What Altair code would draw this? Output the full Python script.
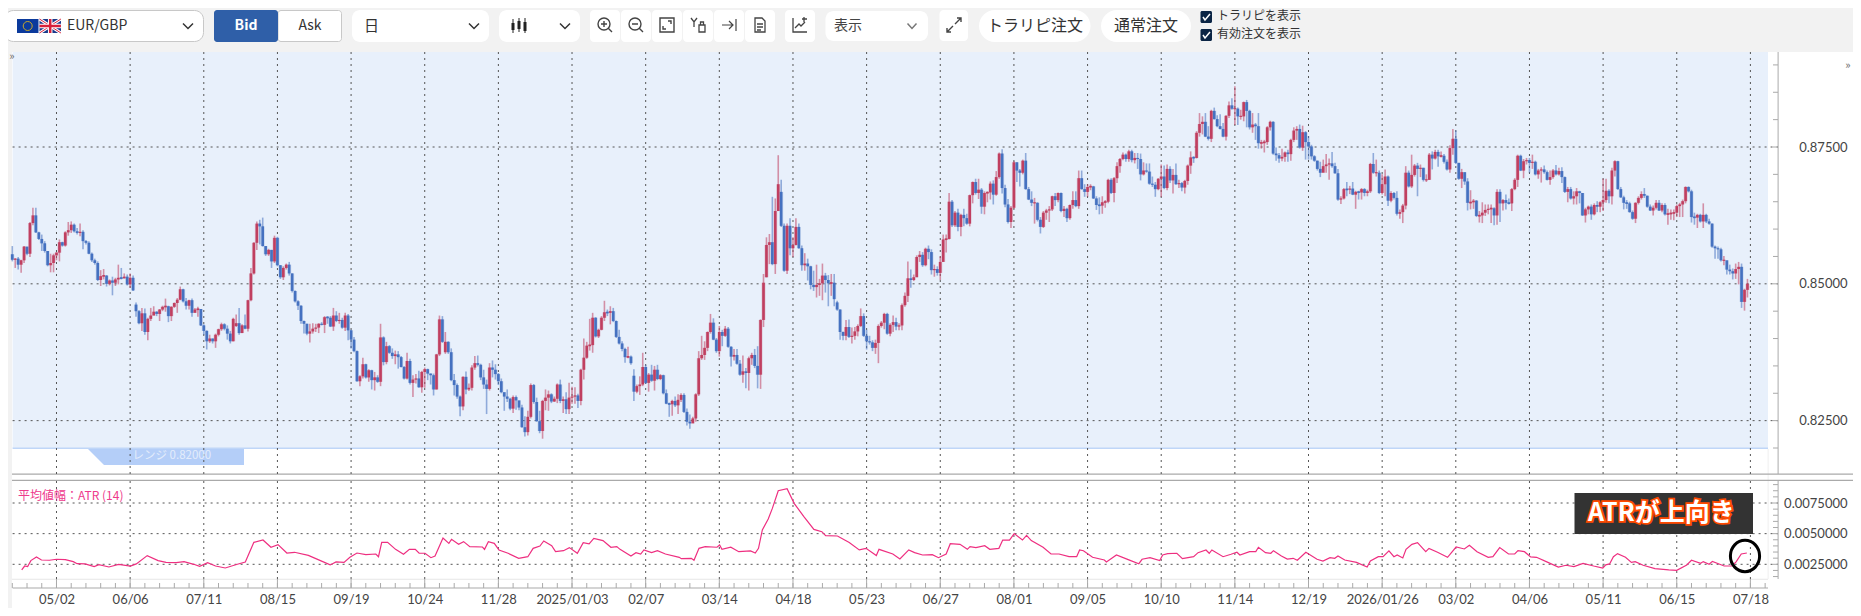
import altair as alt
import pandas as pd

# ---- candles, unit 0.0001 ----
close_a = [8544,8546,8535,8543,8568,8555,8611,8625,8594,8582,8574,8560,8534,8538,8552,8557,8576,8570,8594,8598,8608,8596,8593,8595,8578,8575,8555,8543,8538,8507,8514,8515,8500,8506,8502,8508,8511,8510,8513,8499,8511,8488,8450,8428,8446,8412,8436,8442,8449,8445,8453,8458,8459,8441,8458,8465,8471,8490,8468,8460,8470,8447,8453,8454,8424,8414,8395,8400,8395,8407,8417,8426,8418,8409,8395,8436,8428,8410,8424,8418,8470,8519,8575,8610,8605,8569,8554,8562,8541,8584,8534,8512,8529,8535,8519,8487,8468,8460]
high_a = [8569,8547,8549,8544,8569,8565,8613,8639,8639,8595,8590,8578,8560,8555,8555,8558,8581,8577,8596,8613,8614,8610,8602,8610,8598,8580,8578,8557,8546,8541,8525,8527,8516,8508,8513,8511,8535,8529,8519,8517,8519,8515,8466,8452,8456,8455,8438,8456,8459,8450,8454,8460,8473,8460,8459,8466,8474,8495,8491,8474,8471,8473,8456,8458,8454,8426,8415,8407,8400,8409,8418,8429,8428,8424,8414,8438,8444,8456,8426,8444,8471,8529,8576,8614,8617,8621,8569,8564,8562,8588,8586,8534,8532,8537,8540,8519,8488,8470]
low_a = [8541,8529,8526,8520,8538,8552,8549,8607,8593,8580,8560,8557,8532,8521,8521,8543,8541,8568,8568,8588,8593,8594,8590,8587,8563,8572,8554,8540,8535,8505,8496,8508,8495,8497,8479,8496,8499,8508,8510,8497,8493,8487,8440,8426,8414,8407,8397,8432,8444,8441,8432,8450,8449,8430,8432,8456,8447,8470,8466,8453,8453,8440,8448,8440,8423,8407,8380,8392,8391,8383,8404,8414,8415,8398,8391,8395,8421,8407,8412,8417,8413,8468,8517,8562,8572,8568,8551,8551,8529,8538,8532,8509,8507,8526,8515,8484,8466,8452]

close_b = [8432,8427,8409,8413,8418,8420,8427,8425,8439,8438,8422,8442,8432,8434,8420,8442,8415,8398,8377,8322,8331,8353,8329,8342,8324,8329,8321,8402,8357,8386,8374,8368,8371,8366,8348,8327,8359,8319,8325,8327,8311,8339,8344,8336,8333,8307,8371,8435,8394,8394,8375,8324,8315,8294,8276,8330,8307,8310,8347,8355,8352,8329,8316,8308,8347,8343,8335,8322,8302,8294,8290,8272,8293,8287,8274,8238,8229,8257,8315,8284,8249,8231,8286,8292,8298,8285,8290,8316,8286,8289,8271,8292,8294,8296,8286,8343,8365,8387,8388]
high_b = [8461,8433,8427,8427,8428,8427,8428,8430,8441,8441,8441,8456,8450,8447,8438,8447,8445,8416,8403,8378,8333,8365,8354,8344,8343,8339,8333,8427,8404,8394,8388,8382,8378,8377,8368,8350,8374,8363,8333,8335,8341,8341,8347,8345,8336,8336,8372,8442,8441,8412,8395,8382,8335,8318,8296,8331,8340,8318,8351,8368,8369,8354,8343,8325,8355,8360,8353,8337,8327,8300,8307,8292,8296,8296,8286,8279,8258,8268,8318,8317,8292,8268,8288,8307,8305,8300,8294,8318,8325,8294,8302,8319,8312,8311,8299,8345,8400,8394,8436]
low_b = [8427,8409,8406,8393,8409,8412,8410,8424,8410,8427,8421,8414,8430,8427,8418,8414,8397,8382,8375,8321,8313,8327,8327,8321,8307,8305,8319,8313,8351,8353,8372,8363,8353,8345,8347,8325,8325,8316,8293,8318,8310,8301,8310,8324,8316,8296,8307,8368,8392,8372,8372,8322,8296,8290,8258,8269,8298,8304,8305,8343,8349,8324,8308,8262,8305,8329,8325,8315,8300,8268,8284,8269,8264,8270,8269,8237,8221,8223,8254,8281,8248,8227,8217,8269,8268,8282,8284,8282,8282,8264,8262,8262,8281,8281,8273,8278,8325,8363,8378]

close_c = [8438,8404,8416,8438,8448,8447,8450,8432,8403,8391,8381,8366,8367,8355,8303,8313,8316,8348,8319,8334,8323,8343,8326,8333,8300,8281,8280,8286,8278,8288,8297,8266,8248,8245,8254,8298,8364,8370,8383,8412,8429,8398,8377,8412,8405,8418,8385,8367,8370,8354,8334,8340,8337,8364,8370,8350,8334,8434,8502,8571,8576,8536,8633,8682,8606,8524,8606,8565,8571,8604,8565,8534,8537,8532,8498,8494,8498,8501,8515,8507,8501,8502,8472,8453,8412,8405,8421,8403,8405,8413,8423,8441,8405,8395,8393,8383,8392,8423,8429]
high_c = [8447,8439,8418,8441,8469,8453,8459,8456,8433,8416,8395,8383,8385,8369,8344,8316,8331,8374,8352,8337,8352,8350,8352,8335,8334,8307,8283,8288,8294,8298,8300,8300,8272,8261,8257,8300,8377,8405,8395,8413,8445,8437,8401,8423,8416,8423,8421,8386,8381,8381,8361,8369,8346,8367,8374,8381,8386,8435,8518,8585,8591,8659,8656,8735,8690,8610,8610,8620,8585,8620,8610,8570,8556,8546,8533,8524,8535,8509,8537,8520,8516,8518,8518,8469,8453,8413,8434,8435,8420,8421,8426,8455,8446,8416,8405,8397,8398,8426,8432]
low_c = [8374,8402,8401,8415,8432,8441,8426,8430,8401,8389,8377,8356,8364,8352,8286,8300,8297,8313,8317,8303,8321,8305,8324,8324,8298,8280,8257,8259,8275,8262,8284,8264,8241,8235,8246,8248,8295,8361,8361,8377,8409,8397,8374,8367,8386,8403,8383,8349,8360,8352,8332,8319,8309,8305,8352,8346,8309,8308,8421,8512,8536,8534,8518,8633,8604,8522,8518,8552,8549,8570,8564,8524,8524,8506,8490,8487,8475,8478,8470,8484,8459,8478,8459,8451,8398,8397,8397,8401,8391,8398,8404,8421,8403,8380,8389,8377,8372,8355,8420]

close_d = [8445,8409,8425,8430,8422,8424,8461,8478,8510,8507,8512,8549,8553,8534,8564,8558,8525,8527,8520,8540,8581,8582,8650,8607,8630,8604,8626,8620,8610,8662,8686,8666,8672,8641,8666,8667,8683,8663,8695,8738,8675,8645,8613,8639,8722,8707,8703,8725,8673,8654,8648,8648,8617,8604,8630,8634,8636,8660,8653,8666,8633,8637,8620,8644,8653,8642,8693,8673,8668,8677,8678,8656,8644,8643,8649,8650,8690,8666,8693,8715,8728,8736,8728,8742,8726,8730,8728,8700,8707,8705,8683,8681,8673,8692,8696,8675,8710,8689]
high_d = [8447,8447,8428,8442,8438,8428,8464,8484,8541,8526,8517,8552,8560,8558,8566,8570,8563,8535,8532,8550,8590,8590,8666,8653,8633,8637,8628,8637,8628,8663,8687,8692,8692,8675,8669,8669,8687,8689,8706,8740,8746,8681,8655,8642,8724,8722,8710,8727,8739,8677,8669,8657,8649,8622,8633,8637,8642,8661,8666,8667,8667,8642,8639,8645,8669,8669,8707,8707,8682,8682,8682,8679,8660,8658,8660,8653,8692,8693,8695,8722,8730,8740,8738,8745,8745,8739,8739,8738,8722,8720,8720,8696,8686,8693,8718,8716,8718,8715]
low_d = [8417,8407,8404,8412,8415,8415,8415,8458,8467,8493,8505,8514,8540,8531,8532,8545,8517,8513,8515,8507,8557,8557,8581,8604,8604,8596,8587,8605,8608,8605,8647,8663,8655,8628,8627,8649,8654,8645,8661,8692,8665,8640,8610,8602,8637,8686,8678,8700,8672,8653,8642,8610,8614,8592,8602,8617,8613,8633,8642,8649,8631,8622,8613,8617,8637,8640,8637,8672,8659,8659,8671,8655,8635,8627,8628,8639,8647,8664,8649,8684,8703,8726,8723,8723,8722,8720,8710,8689,8698,8703,8681,8677,8659,8671,8659,8673,8671,8684]

close_e = [8699,8682,8684,8676,8688,8716,8731,8730,8776,8792,8796,8769,8765,8816,8801,8788,8783,8769,8807,8826,8820,8820,8806,8806,8832,8816,8786,8791,8788,8757,8758,8759,8786,8796,8738,8735,8729,8732,8740,8737,8763,8780,8783,8749,8777,8759,8751,8733,8725,8710,8703,8715,8718,8720,8715,8702,8654,8656,8673,8672,8674,8663,8668,8667,8673,8666,8669,8719,8703,8703,8666,8682,8696,8652,8666,8657,8628,8631,8643,8703,8678,8699,8716,8710,8712,8690,8690,8736,8729,8741,8733,8734,8723,8709,8748,8765,8721,8692]
high_e = [8710,8720,8690,8686,8690,8718,8742,8733,8779,8812,8806,8812,8788,8818,8822,8808,8810,8794,8808,8833,8839,8861,8822,8818,8833,8836,8818,8812,8794,8812,8763,8763,8788,8798,8797,8749,8739,8747,8742,8745,8765,8786,8788,8791,8789,8779,8770,8754,8735,8725,8723,8727,8737,8729,8741,8721,8710,8660,8675,8686,8679,8686,8670,8670,8675,8675,8672,8721,8739,8727,8707,8700,8709,8698,8669,8668,8669,8636,8646,8715,8707,8736,8719,8721,8718,8712,8700,8739,8742,8745,8745,8742,8737,8727,8753,8783,8780,8721]
low_e = [8665,8681,8675,8669,8665,8681,8701,8721,8729,8769,8773,8768,8762,8759,8800,8786,8782,8768,8762,8803,8818,8790,8790,8800,8797,8786,8782,8776,8763,8747,8747,8740,8754,8780,8736,8725,8721,8724,8723,8723,8725,8759,8763,8747,8743,8727,8727,8727,8723,8707,8695,8707,8703,8690,8712,8701,8652,8646,8654,8660,8664,8662,8637,8654,8654,8660,8660,8666,8701,8696,8664,8663,8660,8642,8649,8654,8625,8619,8611,8636,8676,8675,8696,8660,8695,8687,8686,8690,8709,8727,8714,8731,8720,8707,8703,8736,8719,8690]

close_f = [8704,8687,8648,8649,8652,8624,8625,8630,8635,8637,8638,8625,8668,8647,8653,8648,8647,8673,8690,8734,8707,8724,8726,8721,8723,8700,8707,8709,8704,8690,8695,8707,8700,8706,8695,8668,8673,8656,8660,8669,8666,8625,8636,8641,8627,8644,8641,8649,8653,8670,8660,8707,8724,8673,8658,8648,8647,8631,8619,8648,8657,8664,8661,8641,8634,8639,8648,8634,8644,8627,8628,8629,8630,8642,8645,8651,8677,8669,8622,8621,8626,8614,8626,8614,8610,8568,8565,8563,8543,8543,8526,8523,8519,8527,8531,8467,8489,8500]
high_f = [8710,8703,8693,8671,8655,8653,8633,8649,8645,8645,8645,8640,8673,8673,8655,8663,8656,8675,8693,8736,8736,8728,8730,8730,8736,8725,8710,8713,8716,8707,8707,8710,8717,8712,8713,8696,8677,8677,8669,8675,8670,8666,8639,8643,8645,8647,8651,8651,8692,8692,8673,8712,8726,8725,8677,8661,8653,8650,8634,8649,8660,8669,8675,8661,8645,8643,8653,8653,8647,8647,8637,8636,8636,8645,8648,8654,8678,8678,8672,8630,8628,8628,8647,8628,8619,8610,8570,8568,8566,8551,8537,8535,8528,8537,8540,8537,8491,8509]
low_f = [8675,8681,8634,8636,8637,8622,8612,8611,8624,8627,8611,8607,8608,8613,8634,8636,8645,8633,8671,8677,8706,8693,8718,8703,8710,8698,8692,8685,8701,8689,8681,8692,8698,8698,8684,8666,8649,8654,8645,8645,8647,8624,8612,8627,8617,8625,8631,8631,8633,8648,8647,8645,8696,8672,8657,8636,8637,8630,8617,8611,8645,8654,8657,8639,8633,8625,8636,8633,8631,8625,8608,8617,8616,8622,8622,8622,8647,8667,8612,8608,8602,8612,8602,8611,8608,8566,8546,8546,8541,8534,8517,8517,8508,8509,8499,8456,8451,8475]

open_overrides = {42:8462, 76:8423, 147:8375, 211:8332, 256:8512, 261:8668, 280:8466}

# ---- ATR: bar position and value, unit 0.0001 ----
atr_bar = [3.2,4.2,5.2,6.3,8.2,9.9,12.6,15,18,20.7,22,24.7,27.8,29.4,32.8,36.1,40.1,42.1,45.8,49.5,52.2,55.6,58.3,61.6,63.6,66.3,69,72.3,76.4,79.1,82,85.1,87.8,90.2,93.2,95.8,100.5,104.6,107.9,109.9,112.6,114.6,117,120,123.4,124.3,125.4,127.4,130.1,132.8,134.8,136.8,138.1,140.1,142.1,143.5,146.2,148.2,149.1,151.5,153.2,155.3,159.6,160.3,161.6,163.6,165.2,168.3,171.9,175,176.8,179.1,180.4,183.1,184.4,187.1,189.1,191.8,193.8,195.8,197.4,200.5,203.2,205.2,
206.3,210,211.7,213.3,214.4,217,219,221.7,226.4,227.1,230.5,231.4,233.1,235.2,239.2,240.1,240.9,243.9,246.6,250.6,252.2,253.3,254.6,256.6,258,260,263,265.4,268.7,272.1,274.8,276.1,280.1,284.1,287.5,289.8,293.3,294.2,298.9,301.3,304.3,306.3,309,312.3,314.4,317,318.4,321.7,324.2,325.1,327.1,330.1,331.8,334.9,336.2,338.5,340.1,342.9,344.3,345.9,349.9,352.6,355.3,358.7,361.3,362.3,363.6,366.7,370.7,371.4,374.8,378.8,382.4,383.5,386.2,389.5,390.5,392.2,395.3,397.2,401,402.5,405.2,406.3,407.2,411,413.7,415.7,
416.7,420,422.1,423,425.4,427.2,428.1,430.8,432.8,434.8,436.2,439.1,442.9,444.9,447.3,448.9,450,452.3,456.3,459.9,461,463.7,465.3,467.3,469,470.1,472,473.1,475.1,477,479.8,480.9,483.8,487.2,490.1,492.9,494.6,497.2,501,502.6,504.9,507.9,510,511.1,513.3,515.4,517.4,520.7,524.8,527.4,530.1,533.2,536.8,539.9,540.9,542.2,543.5,544.9,547.6,549.6,550.9,553.6,557.6,562.3,565,568.4,570,573.1,574,576,577.1,581.1,583.8,585.2,586.9,588.8]
atr_val = [20.4,23.6,23.1,28,31,28.5,28.3,29.1,28.8,27.2,25.5,25.3,23.1,24.7,22.8,25,23.6,25.3,32.1,28,26.6,26.4,27.2,25,23.4,26.4,23.6,22,25,26.9,42.9,44.8,38.9,41,34.2,34.8,32.3,28,24.5,26.9,26.6,30.7,34.2,32.9,33.4,31.2,42.9,42.9,37.2,33.2,37.2,37.2,34,34,30.4,31.8,46.5,42.1,45.4,41.3,43.5,39.4,39.1,37.2,43.5,42.1,36.7,34,29.9,31.2,38,39.9,44,40.2,35.3,36.1,38.6,34,42.7,41.6,46.2,44.3,38.9,39.4,
37.2,31.8,34.5,33.4,36.7,34.5,36.1,33.4,30.7,29.6,29.9,28.3,38,39.4,38.9,40.8,37.2,38.9,35.3,35.9,34.2,38,53,61.9,70.6,85,86.7,74.7,63.9,53.5,51.6,48.4,48.1,42.7,36.7,38,32.1,37.2,33.4,29.3,36.7,34.5,32.6,32.9,30.4,33.4,41.8,41.3,37.2,39.4,38.6,40.2,37.2,38,44.8,44.8,50,44.8,48.6,44.3,38.9,33.4,33.4,31.2,31.2,36.7,36.1,30.7,28.5,26.9,32.6,28.8,25.5,29.1,30.4,28,32.6,33.7,34,29.6,31.2,34.5,36.7,34,36.7,31.2,33.2,34.8,
32.6,35.3,35.3,38.9,34.5,34,36.1,31.8,29.3,29.9,28.3,34.8,29.1,27.7,30.4,29.9,31.8,28.5,26.6,22.8,27.7,31.2,31.2,35.9,31.2,32.6,30.2,37.2,41.3,42.7,35.3,38,34.8,30.7,39.1,37.5,40.5,35.3,30.7,31.2,38.6,33.4,33.4,36.1,35.3,31,30.7,27.2,22.8,24.2,23.1,25.8,23.6,22,24.5,25.3,31.2,33.7,30.7,26.6,27.2,24.2,21.5,20.4,20.1,24.5,28.3,25.8,27.2,25,27.4,23.6,23.6,27.2,33.4,34.2]

date_labels = ["05/02","06/06","07/11","08/15","09/19","10/24","11/28","2025/01/03","02/07","03/14","04/18","05/23","06/27","08/01","09/05","10/10","11/14","12/19","2026/01/26","03/02","04/06","05/11","06/15","07/18"]
date_bars = [15 + 25 * k for k in range(len(date_labels))]
price_labels = [0.825, 0.85, 0.875]
price_minor = [0.82,0.825,0.83,0.835,0.84,0.845,0.85,0.855,0.86,0.865,0.87,0.875,0.88,0.885,0.89]
atr_labels = [0.0025, 0.005, 0.0075]
atr_minor = [0.0015,0.002,0.0025,0.003,0.0035,0.004,0.0045,0.005,0.0055,0.006,0.0065,0.007,0.0075,0.008,0.0085,0.009]
minor_bars = list(range(0, 600, 5))

# ---- assemble ----
closes = close_a + close_b + close_c + close_d + close_e + close_f
highs = high_a + high_b + high_c + high_d + high_e + high_f
lows = low_a + low_b + low_c + low_d + low_e + low_f
rows = []
prev = closes[0] + 10
for i, (c, h, l) in enumerate(zip(closes, highs, lows)):
    o = open_overrides.get(i, prev)
    top, bot = max(o, c), min(o, c)
    if top - bot < 2:
        top, bot = top + 1, bot - 1
    rows.append(dict(i=i, hi=h / 1e4, lo=l / 1e4, top=top / 1e4, bot=bot / 1e4, dir="up" if c >= o else "down"))
    prev = c
bars = pd.DataFrame(rows)
atr = pd.DataFrame({"i": atr_bar[:len(atr_val)], "v": [v / 1e4 for v in atr_val[:len(atr_bar)]]})

W, H = 1845, 600
M = 8
xs = alt.Scale(domain=[0, 590], range=[4.3, 1742.4])
ps = alt.Scale(domain=[0.82, 0.89], range=[440, 56.91])
ats = alt.Scale(domain=[0.0025, 0.0075], range=[556.3, 495])
LAT = "Lato"
JP = "Noto Sans CJK JP"
GREY = "#aaaaaa"
DASH = [2, 4]
GRID = "#555555"


def V(v):
    return alt.value(v - M)


def rects(items, radius=0, **kw):
    df = pd.DataFrame([dict(x=a - M, x2=b - M, y=c - M, y2=d - M, fill=f) for a, b, c, d, f in items])
    return alt.Chart(df).mark_rect(cornerRadius=radius, **kw).encode(
        x=alt.X("x:Q", scale=None, axis=None), x2="x2:Q",
        y=alt.Y("y:Q", scale=None, axis=None), y2="y2:Q",
        fill=alt.Fill("fill:N", scale=None))


def texts(items, align="left", font=JP, weight="normal"):
    df = pd.DataFrame([dict(t=t, x=x - M, y=y - M, s=s, c=c) for t, x, y, s, c in items])
    return alt.Chart(df).mark_text(align=align, baseline="middle", font=font, fontWeight=weight).encode(
        x=alt.X("x:Q", scale=None, axis=None), y=alt.Y("y:Q", scale=None, axis=None),
        text="t:N", size=alt.Size("s:Q", scale=None), color=alt.Color("c:N", scale=None))


def icons(items, filled=False):
    df = pd.DataFrame([dict(x=x - M, y=y - M, p=p, c=c, w=w) for x, y, p, c, w in items])
    enc = dict(x=alt.X("x:Q", scale=None, axis=None), y=alt.Y("y:Q", scale=None, axis=None),
               shape=alt.Shape("p:N", scale=None), strokeWidth=alt.StrokeWidth("w:Q", scale=None))
    if filled:
        enc["fill"] = alt.Fill("c:N", scale=None)
        return alt.Chart(df).mark_point(filled=True, size=4, opacity=1, strokeWidth=0).encode(
            x=enc["x"], y=enc["y"], shape=enc["shape"], fill=enc["fill"])
    enc["stroke"] = alt.Stroke("c:N", scale=None)
    return alt.Chart(df).mark_point(filled=False, size=4, opacity=1).encode(**enc)


CHEV = "M-5,-2.5L0,2.5L5,-2.5"
WHITE = "#ffffff"

bg = rects([
    (12, 1853, 52, 612, WHITE),
    (12.6, 1768, 52, 448, "#e8f0fb"),
    (12.6, 1768, 447.5, 449, "#bfd6f8"),
    (12, 1768, 578.7, 579.7, "#e6e6e6"),
    (1767.6, 1768.6, 449, 579, "#efefef"),
    (12, 1853, 473.5, 474.7, GREY),
    (12, 1853, 479.7, 480.9, GREY),
    (1777.6, 1778.6, 52, 474, GREY),
    (1777.6, 1778.6, 481, 579, GREY),
    (12.6, 1768, 587.5, 588.5, "#aaaaaa"),
    (104, 244, 449, 465, "#b4cef8"),
])
band_tip = icons([(96, 457, "M-8,-8L8,-8L8,8Z", "#b4cef8", 0)], filled=True)
band_text = texts([("レンジ 0.82000", 132.5, 456, 11.5, "#e3ecfb")])

x_none = alt.X("i:Q", scale=xs, axis=None)
vgrid_df = pd.DataFrame({"i": date_bars})
vgrid1 = alt.Chart(vgrid_df).mark_rule(color=GRID, strokeWidth=1, strokeDash=DASH).encode(
    x=x_none, y=V(52), y2=V(474))
vgrid2 = alt.Chart(vgrid_df).mark_rule(color=GRID, strokeWidth=1, strokeDash=DASH).encode(
    x=x_none, y=V(481), y2=V(579))

price_axis = alt.Axis(orient="right", values=price_labels, format=".5f", offset=1770 - W, ticks=False, domain=False,
                      grid=False, title=None, labelAlign="right", labelPadding=69, labelFont=LAT, labelFontSize=13,
                      labelColor="#444444", labelBaseline="middle", zindex=1)
atr_axis = alt.Axis(orient="right", values=atr_labels, format=".7f", offset=1770 - W, ticks=False, domain=False,
                    grid=False, title=None, labelAlign="right", labelPadding=69, labelFont=LAT, labelFontSize=13,
                    labelColor="#444444", labelBaseline="middle", zindex=1)
hgrid_p = alt.Chart(pd.DataFrame({"p": price_labels})).mark_rule(color=GRID, strokeWidth=1, strokeDash=DASH).encode(
    y=alt.Y("p:Q", scale=ps, axis=price_axis), x=V(12.6), x2=V(1778))
hgrid_a = alt.Chart(pd.DataFrame({"p": atr_labels})).mark_rule(color=GRID, strokeWidth=1, strokeDash=DASH).encode(
    y=alt.Y("p:Q", scale=ats, axis=atr_axis), x=V(12.6), x2=V(1778))
ptick = alt.Chart(pd.DataFrame({"p": price_minor})).mark_rule(color=GREY).encode(
    y=alt.Y("p:Q", scale=ps, axis=None), x=V(1773), x2=V(1778))
atick = alt.Chart(pd.DataFrame({"p": atr_minor})).mark_rule(color=GREY).encode(
    y=alt.Y("p:Q", scale=ats, axis=None), x=V(1773), x2=V(1778))

label_expr = "[" + ",".join(f"'{d}'" for d in date_labels) + "][(datum.value-15)/25]"
time_axis = alt.Axis(orient="bottom", values=date_bars, labelExpr=label_expr, offset=580 - H, ticks=False, domain=False,
                     grid=False, title=None, labelFont=LAT, labelFontSize=13, labelColor="#444444", labelPadding=5,
                     labelOverlap=False, labelFlush=False, labelAlign="center", zindex=1)
major_tick = alt.Chart(vgrid_df).mark_rule(color=GREY).encode(
    x=alt.X("i:Q", scale=xs, axis=time_axis), y=V(579), y2=V(588))
minor_tick = alt.Chart(pd.DataFrame({"i": minor_bars})).mark_rule(color=GREY).encode(
    x=x_none, y=V(583), y2=V(588))

cscale = alt.Scale(domain=["up", "down"], range=["#c03f60", "#4571c0"])
halo = alt.Chart(bars).mark_rule(strokeWidth=4, opacity=0.22).encode(
    x=x_none, y=alt.Y("bot:Q", scale=ps, axis=None), y2="top:Q",
    color=alt.Color("dir:N", scale=cscale, legend=None))
wick = alt.Chart(bars).mark_rule(strokeWidth=1.6, opacity=0.55).encode(
    x=x_none, y=alt.Y("lo:Q", scale=ps, axis=None), y2="hi:Q",
    color=alt.Color("dir:N", scale=cscale, legend=None))
body = alt.Chart(bars).mark_rule(strokeWidth=2.6).encode(
    x=x_none, y=alt.Y("bot:Q", scale=ps, axis=None), y2="top:Q",
    color=alt.Color("dir:N", scale=cscale, legend=None))
atr_line = alt.Chart(atr).mark_line(color="#ee2f80", strokeWidth=1.2).encode(
    x=x_none, y=alt.Y("v:Q", scale=ats, axis=None))
atr_title = texts([("平均値幅：ATR (14)", 18, 496, 12, "#ee3a8c")])

note_box = rects([(1574.5, 1753, 493, 534, "#333333")])
note_df = pd.DataFrame([dict(t="ATRが上向き", x=1588 - M, y=513 - M)])
note_stroke = alt.Chart(note_df).mark_text(align="left", baseline="middle", font=JP, fontWeight="bold", fontSize=25,
                                           stroke="#ff4a00", strokeWidth=3.5, fill="#ff4a00").encode(
    x=alt.X("x:Q", scale=None, axis=None), y=alt.Y("y:Q", scale=None, axis=None), text="t:N")
note_fill = alt.Chart(note_df).mark_text(align="left", baseline="middle", font=JP, fontWeight="bold", fontSize=25,
                                         fill="#ffffff").encode(
    x=alt.X("x:Q", scale=None, axis=None), y=alt.Y("y:Q", scale=None, axis=None), text="t:N")
ring = icons([(1745, 556, "M14.6,0C14.6,8.7 8,15.7 0,15.7C-8,15.7 -14.6,8.7 -14.6,0C-14.6,-8.7 -8,-15.7 0,-15.7C8,-15.7 14.6,-8.7 14.6,0Z", "#000000", 3)])

# toolbar
select_box = rects([(4.5, 203.5, 10.5, 41.5, WHITE)], radius=9, stroke="#c8c8c8", strokeWidth=1)
askbid = rects([(278, 341.5, 10.5, 41.5, WHITE)], radius=3, stroke="#c8c8c8", strokeWidth=1)
bid = rects([(214, 278, 10, 42, "#2f5fa8")], radius=3)
soft = rects([(352, 489, 10, 42, WHITE), (499, 580, 10, 42, WHITE), (825.5, 928, 11, 41, WHITE)], radius=8)
square = rects([(590, 620, 10, 42, WHITE), (621, 651, 10, 42, WHITE), (652, 682, 10, 42, WHITE), (683, 713, 10, 42, WHITE),
                (714, 744, 10, 42, WHITE), (745, 775, 10, 42, WHITE), (785, 815, 10, 42, WHITE), (939.5, 968, 10, 41, WHITE)], radius=4)
pills = rects([(979, 1090.5, 10, 42, WHITE), (1101, 1191, 10, 42, WHITE)], radius=16)
checks = rects([(1200.5, 1212, 11, 23, "#0b2545"), (1200.5, 1212, 29, 41, "#0b2545")], radius=1.5)
flags = rects([(17, 38.5, 19, 33, "#0b3a9c"), (39.5, 61, 19, 33, "#1a3a8a")])

DARK = "#333333"
icon_items = [
    (188, 26, CHEV, DARK, 1.5), (474, 26, CHEV, DARK, 1.5), (565, 26, CHEV, DARK, 1.5), (912, 26, "M-4.5,-2.5L0,2.5L4.5,-2.5", "#777777", 1.5),
    (605, 25, "M5,-1A6,6 0 1 1 -7,-1A6,6 0 1 1 5,-1M3.5,3.5L7,7M-4,-1L2,-1M-1,-4L-1,2", "#444444", 1.4),
    (636, 25, "M5,-1A6,6 0 1 1 -7,-1A6,6 0 1 1 5,-1M3.5,3.5L7,7M-4,-1L2,-1", "#444444", 1.4),
    (667, 25, "M-7,-7L7,-7L7,7L-7,7ZM1,-4L4,-4L4,-1M-4,1L-4,4L-1,4", "#444444", 1.4),
    (698, 25, "M-7,-7L-4,-3L-1,-7M-4,-3L-4,2M1,0L7,0L7,7L1,7ZM2.5,0L2.5,-3L5.5,-3L5.5,0", "#444444", 1.3),
    (729, 25, "M-7,0L4,0M0,-4L4,0L0,4M7,-6L7,6", "#444444", 1.2),
    (760, 25, "M-5,-7L2,-7L5,-4L5,7L-5,7ZM-3,-1L3,-1M-3,2L3,2M-3,5L1,5", "#444444", 1.3),
    (800, 25, "M-7,-7L-7,7L7,7M-5,3L-1,-1L1,1L5,-3M4,-8L4,-3M2,-6L7,-6", "#444444", 1.3),
    (954, 25, "M1,-1L7,-7M3,-7L7,-7L7,-3M-1,1L-7,7M-7,3L-7,7L-3,7", "#444444", 1.4),
    (519, 26, "M-6,-7L-6,7M0,-8L0,6M6,-8L6,7", "#222222", 1),
    (519, 26, "M-6,-3L-6,4M0,-5L0,3M6,-4L6,5", "#222222", 3),
    (1206, 17, "M-3,0L-1,3L4,-3", WHITE, 1.5), (1206, 35, "M-3,0L-1,3L4,-3", WHITE, 1.5),
    (50.2, 26, "M-10.7,-7L10.7,7M10.7,-7L-10.7,7", WHITE, 3),
    (50.2, 26, "M-10.7,-7L10.7,7M10.7,-7L-10.7,7", "#d8203a", 1),
    (50.2, 26, "M-10.7,0L10.7,0M0,-7L0,7", WHITE, 4.5),
    (50.2, 26, "M-10.7,0L10.7,0M0,-7L0,7", "#d8203a", 2.5),
    (27.7, 26, "M4.5,0A4.5,4.5 0 1 1 -4.5,0A4.5,4.5 0 1 1 4.5,0", "#c8a82a", 1),
]
tool_icons = icons(icon_items)
tool_left = texts([
    ("EUR/GBP", 67, 26, 14, DARK), ("日", 364, 26, 15, DARK), ("表示", 834, 26, 14, "#444444"),
    ("トラリピを表示", 1217, 16, 12, DARK), ("有効注文を表示", 1217, 34, 12, DARK),
])
tool_center = texts([
    ("Ask", 310, 26, 14, DARK), ("トラリピ注文", 1035, 26, 16, DARK), ("通常注文", 1146, 26, 16, DARK),
    ("»", 12, 57, 11, "#666666"), ("»", 1848, 66, 11, "#666666"),
], align="center")
tool_bold = texts([("Bid", 246, 26, 14, WHITE)], align="center", weight="bold")

chart = alt.layer(
    bg, band_tip, vgrid1, vgrid2, hgrid_p, hgrid_a, ptick, atick, major_tick, minor_tick, band_text,
    halo, wick, body, atr_line, atr_title, note_box, note_stroke, note_fill, ring,
    select_box, askbid, bid, soft, square, pills, checks, flags, tool_icons, tool_left, tool_center, tool_bold,
).resolve_scale(x="independent", y="independent").properties(
    width=W, height=H, padding=0, background="#f2f2f2",
    autosize=alt.AutoSizeParams(type="none", contains="padding"),
).configure_view(strokeWidth=0)

chart.save("out.html", embed_options={"renderer": "svg", "actions": False})
